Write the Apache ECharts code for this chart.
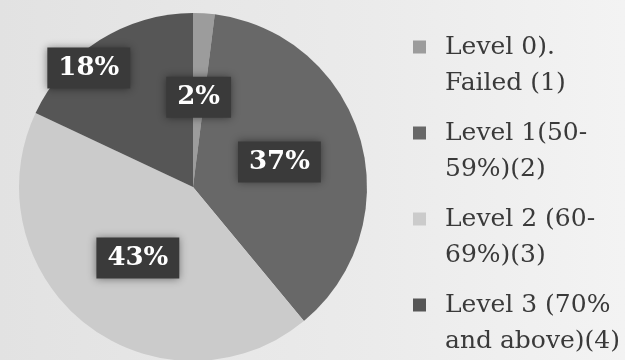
<!DOCTYPE html>
<html>
<head>
<meta charset="utf-8">
<script src="https://cdn.jsdelivr.net/npm/echarts@6/dist/echarts.min.js"></script>
<style>html,body{margin:0;padding:0;}#c{width:625px;height:360px;}</style>
</head>
<body>
<div id="c"></div>
<script>
const categories = ['Level 0).\nFailed (1)', 'Level 1(50-\n59%)(2)', 'Level 2 (60-\n69%)(3)', 'Level 3 (70%\nand above)(4)'];
const percentValues = [2, 37, 43, 18];
const sliceColors = ['#9c9c9c', '#686868', '#cbcbcb', '#565656'];

const chart = echarts.init(document.getElementById('c'));
const data = categories.map((name, i) => {
  const d = { name: name, value: percentValues[i], itemStyle: { color: sliceColors[i] } };
  if (i === 3) d.label = { offset: [-56, -43] };
  return d;
});
chart.setOption({
  animation: false,
  backgroundColor: {
    type: 'linear', x: 0, y: 0, x2: 1, y2: 0,
    colorStops: [{ offset: 0, color: '#e2e2e2' }, { offset: 0.6, color: '#ebebeb' }, { offset: 1, color: '#f3f3f3' }]
  },
  legend: {
    orient: 'vertical',
    left: 413,
    top: 29,
    padding: 0,
    itemWidth: 27,
    itemHeight: 49,
    itemGap: 14,
    icon: 'path://M0,0H13V13H0Z M27,49L27,49.01',
    data: categories,
    textStyle: {
      fontFamily: 'DejaVu Serif',
      fontSize: 25,
      lineHeight: 36,
      color: '#3a3a3a'
    }
  },
  series: [{
    type: 'pie',
    center: [193, 187],
    radius: 174,
    startAngle: 90,
    clockwise: true,
    data: data,
    label: {
      show: true,
      position: 'inside',
      formatter: '{c}%',
      color: '#ffffff',
      fontFamily: 'DejaVu Serif',
      fontWeight: 'bold',
      fontSize: 26,
      lineHeight: 26,
      backgroundColor: '#3a3a3a',
      padding: [8, 11, 7, 11],
      shadowBlur: 8,
      shadowColor: 'rgba(0,0,0,0.45)'
    },
    labelLine: { show: false },
    itemStyle: { borderWidth: 0 },
    emphasis: { disabled: true }
  }]
});
</script>
</body>
</html>
